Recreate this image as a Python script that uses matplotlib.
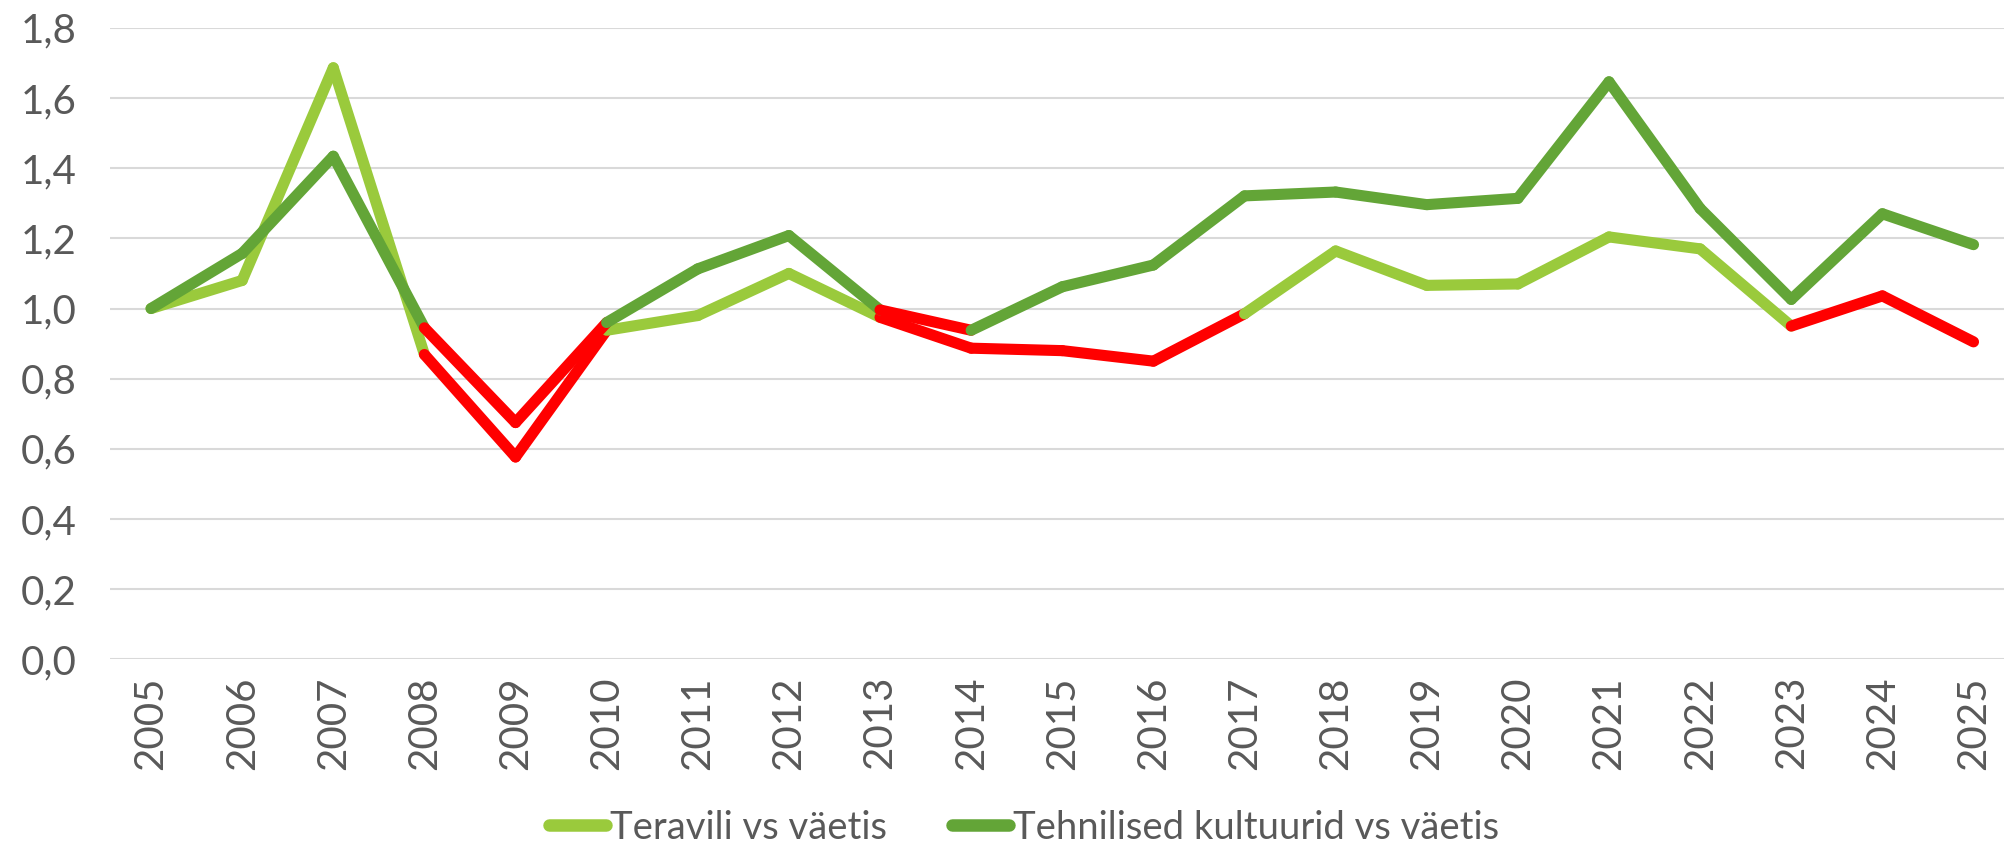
import matplotlib
matplotlib.use("Agg")
import matplotlib.pyplot as plt
from matplotlib.lines import Line2D

# data
years = list(range(2005, 2026))
teravili = [1.00, 1.08, 1.686, 0.869, 0.577, 0.938, 0.98, 1.10, 0.975, 0.887, 0.88,
            0.85, 0.985, 1.164, 1.066, 1.07, 1.204, 1.17, 0.95, 1.036, 0.905]
tehnilised = [1.00, 1.157, 1.434, 0.945, 0.675, 0.96, 1.113, 1.208, 0.996, 0.938, 1.062,
              1.124, 1.321, 1.332, 1.296, 1.314, 1.646, 1.285, 1.026, 1.27, 1.182]
# segments (start year) drawn in red
teravili_red = [2008, 2009, 2013, 2014, 2015, 2016, 2023, 2024]
tehnilised_red = [2008, 2009, 2013]

labels = ["Teravili vs väetis", "Tehnilised kultuurid vs väetis"]
yticks = [0.0, 0.2, 0.4, 0.6, 0.8, 1.0, 1.2, 1.4, 1.6, 1.8]

c_light = "#9ACA3C"
c_dark = "#63A537"
c_red = "#FF0000"
c_text = "#595959"

plt.rcParams['font.family'] = ['Lato', 'DejaVu Sans']

fig = plt.figure(figsize=(20.08, 8.42), dpi=100)
ax = fig.add_axes([0.0548, 0.2168, 0.943, 0.7502])

x = list(range(len(years)))


def draw_series(vals, red_years, color, z):
    for i in range(len(vals) - 1):
        col = c_red if years[i] in red_years else color
        ax.plot([x[i], x[i + 1]], [vals[i], vals[i + 1]], color=col, lw=8,
                solid_capstyle='round', solid_joinstyle='round', zorder=z)


draw_series(teravili, teravili_red, c_light, 3)
draw_series(tehnilised, tehnilised_red, c_dark, 4)

ax.set_xlim(-0.45, 20.33)
ax.set_ylim(0, 1.8)
ax.set_yticks(yticks)
ax.set_yticklabels([("%.1f" % v).replace(".", ",") for v in yticks])
ax.set_xticks(x)
ax.set_xticklabels([str(y) for y in years], rotation=90)
ax.tick_params(axis='both', length=0, labelsize=29, colors=c_text)
ax.tick_params(axis='y', pad=24)
ax.tick_params(axis='x', pad=12)

ax.grid(axis='y', color='#D9D9D9', lw=1.5, zorder=0)
ax.set_axisbelow(True)
for s in ax.spines.values():
    s.set_visible(False)

handles = [Line2D([], [], color=c_light, lw=9, solid_capstyle='round'),
           Line2D([], [], color=c_dark, lw=9, solid_capstyle='round')]
fig.legend(handles, labels, loc='lower center', bbox_to_anchor=(0.51, -0.045),
           ncol=2, frameon=False, fontsize=27.5, handlelength=1.5,
           handletextpad=0.1, columnspacing=1.7, labelcolor=c_text)

fig.savefig("out.png", dpi=100)
